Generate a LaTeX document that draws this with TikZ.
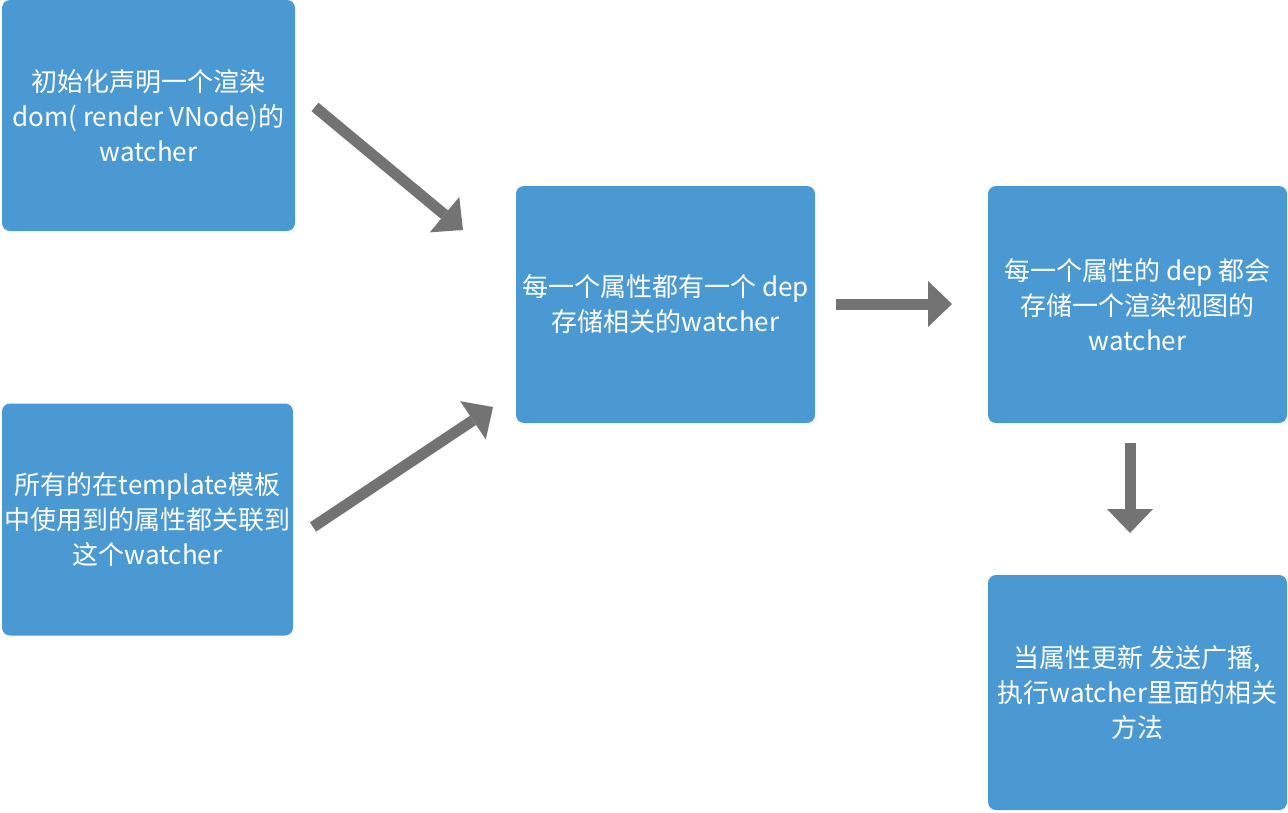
\documentclass[tikz,border=0pt]{standalone}
\usepackage{fontspec}
\setmainfont{Noto Sans CJK SC}
\usepackage{tikz}
\usetikzlibrary{arrows.meta,positioning}
\definecolor{boxblue}{RGB}{74,153,211}
\definecolor{arrowgray}{RGB}{115,115,115}

\begin{document}
\begin{tikzpicture}[>={Triangle[length=24pt,width=46pt,line width=0pt]},
  box/.style={fill=boxblue, rounded corners=8pt, text=white, align=center, inner sep=0pt,
    font=\fontsize{26pt}{35pt}\selectfont},
  link/.style={->, color=arrowgray, line width=11pt}]
  \useasboundingbox (0pt,0pt) rectangle (1288pt,-812pt);
  \draw (148.5pt, -115.5pt)node[box, minimum width=293pt, minimum height=231pt](0){初始化声明一个渲染\\dom( render VNode)的\\watcher};
  \draw (147.5pt, -519.5pt)node[box, minimum width=291pt, minimum height=232pt](1){所有的在template模板\\中使用到的属性都关联到\\这个watcher};
  \draw (665.5pt, -304.5pt)node[box, minimum width=299pt, minimum height=237pt](2){每一个属性都有一个 dep\\存储相关的watcher};
  \draw (1137.5pt, -304.5pt)node[box, minimum width=299pt, minimum height=237pt](3){每一个属性的 dep 都会\\存储一个渲染视图的\\watcher};
  \draw (1137.5pt, -692.5pt)node[box, minimum width=299pt, minimum height=235pt](4){当属性更新 发送广播,\\执行watcher里面的相关\\方法};
  % free ends of the arrows
  \coordinate (0s) at (315pt, -107pt);
  \coordinate (0t) at (463pt, -230pt);
  \coordinate (1s) at (313pt, -527pt);
  \coordinate (1t) at (493pt, -407pt);
  \coordinate (2s) at (836pt, -304pt);
  \coordinate (2t) at (952pt, -304pt);
  \coordinate (3s) at (1130pt, -443pt);
  \coordinate (3t) at (1130pt, -533pt);
  \draw[link] (0s) -- (0t);
  \draw[link] (1s) -- (1t);
  \draw[link] (2s) -- (2t);
  \draw[link] (3s) -- (3t);
\end{tikzpicture}
\end{document}
